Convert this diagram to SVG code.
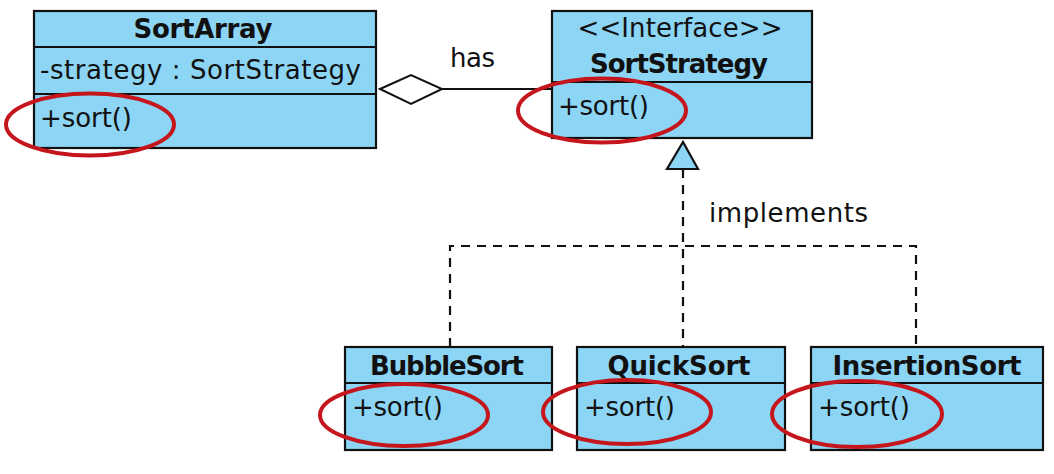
<svg xmlns="http://www.w3.org/2000/svg" width="1054" height="474" viewBox="0 0 1054 474">
<style>
.box{fill:#8dd5f5;stroke:#111;stroke-width:2.2}
.div{stroke:#111;stroke-width:2;fill:none}
.t{font-family:"DejaVu Sans","Liberation Sans",sans-serif;font-size:26px;fill:#111}
.b{font-weight:bold;text-anchor:middle}
.c{text-anchor:middle}
.hl{fill:none;stroke:#c4161c;stroke-width:4}
.dash{fill:none;stroke:#111;stroke-width:2.2;stroke-dasharray:9 7}
.solid{fill:none;stroke:#111;stroke-width:2}
</style>
<rect width="1054" height="474" fill="#fff"/>
<g id="connectors">
<path class="dash" d="M683,169 V347"/>
<path class="dash" d="M450,347 V246 H916 V347"/>
<line class="solid" x1="442" y1="89" x2="552" y2="89"/>
<polygon points="380,89 411,75 442,89 411,104" fill="#fff" stroke="#111" stroke-width="2"/>
<polygon points="683,142 667,169 698,169" fill="#8dd5f5" stroke="#111" stroke-width="2.2"/>
<text class="t" x="450" y="67" textLength="45">has</text>
<text class="t" x="709" y="222" textLength="159">implements</text>
</g>
<g id="SortArray">
<rect class="box" x="34" y="11" width="342" height="137"/>
<line class="div" x1="34" y1="47" x2="376" y2="47"/>
<line class="div" x1="34" y1="94" x2="376" y2="94"/>
<text class="t b" x="203" y="38" textLength="139">SortArray</text>
<text class="t" x="40" y="79" textLength="321">-strategy : SortStrategy</text>
<text class="t" x="40" y="127" textLength="92">+sort()</text>
<ellipse class="hl" cx="90" cy="124.5" rx="84" ry="31"/>
</g>
<g id="SortStrategy">
<rect class="box" x="552" y="11" width="260" height="127"/>
<line class="div" x1="552" y1="82" x2="812" y2="82"/>
<text class="t c" x="680" y="37" textLength="205">&lt;&lt;Interface&gt;&gt;</text>
<text class="t b" x="679" y="73" textLength="178">SortStrategy</text>
<text class="t" x="558" y="115" textLength="91">+sort()</text>
<ellipse class="hl" cx="602" cy="110.5" rx="84" ry="32"/>
</g>
<g id="BubbleSort">
<rect class="box" x="345" y="347" width="207" height="103"/>
<line class="div" x1="345" y1="383" x2="552" y2="383"/>
<text class="t b" x="447" y="375" textLength="154">BubbleSort</text>
<text class="t" x="352" y="416" textLength="91">+sort()</text>
<ellipse class="hl" cx="404" cy="415" rx="84" ry="31"/>
</g>
<g id="QuickSort">
<rect class="box" x="577" y="347" width="208" height="103"/>
<line class="div" x1="577" y1="383" x2="785" y2="383"/>
<text class="t b" x="679" y="375" textLength="143">QuickSort</text>
<text class="t" x="584" y="416" textLength="91">+sort()</text>
<ellipse class="hl" cx="627" cy="412" rx="84" ry="32"/>
</g>
<g id="InsertionSort">
<rect class="box" x="811" y="347" width="232" height="103"/>
<line class="div" x1="811" y1="383" x2="1043" y2="383"/>
<text class="t b" x="927" y="375" textLength="189">InsertionSort</text>
<text class="t" x="818" y="416" textLength="92">+sort()</text>
<ellipse class="hl" cx="857" cy="414" rx="85" ry="33"/>
</g>
</svg>
